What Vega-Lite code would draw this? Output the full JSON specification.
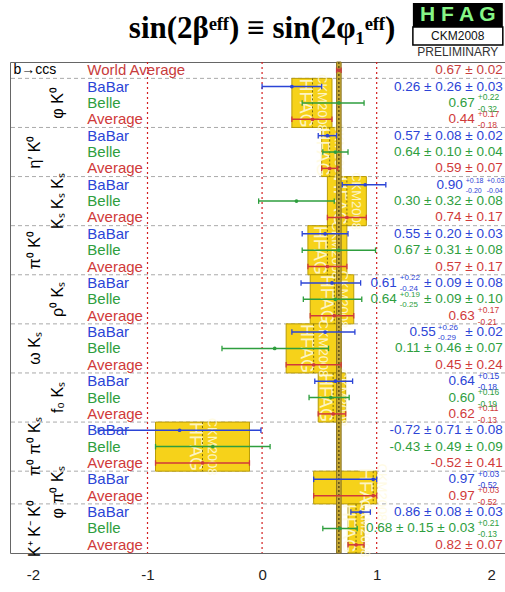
{
  "$schema": "https://vega.github.io/schema/vega-lite/v6.json",
  "width": 495,
  "height": 491,
  "autosize": {"type": "none"},
  "padding": {"left": 10, "top": 62, "right": 0, "bottom": 39},
  "background": "white",
  "config": {"view": {"stroke": "#666666", "strokeWidth": 1}, "font": "Liberation Sans"},
  "datasets": {
    "rows": [
      {"r": 0, "exp": "World Average", "v": 0.67, "lo": 0.65, "hi": 0.69, "txt": "0.67 ± 0.02"},
      {"r": 1, "exp": "BaBar", "v": 0.26, "lo": 0.0, "hi": 0.52, "txt": "0.26 ± 0.26 ± 0.03"},
      {"r": 2, "exp": "Belle", "v": 0.67, "lo": 0.35, "hi": 0.89, "txt": "0.67", "up": "+0.22", "dn": "-0.32"},
      {"r": 3, "exp": "Average", "v": 0.44, "lo": 0.26, "hi": 0.61, "txt": "0.44", "up": "+0.17", "dn": "-0.18"},
      {"r": 4, "exp": "BaBar", "v": 0.57, "lo": 0.49, "hi": 0.65, "txt": "0.57 ± 0.08 ± 0.02"},
      {"r": 5, "exp": "Belle", "v": 0.64, "lo": 0.53, "hi": 0.75, "txt": "0.64 ± 0.10 ± 0.04"},
      {"r": 6, "exp": "Average", "v": 0.59, "lo": 0.52, "hi": 0.66, "txt": "0.59 ± 0.07"},
      {"r": 7, "exp": "BaBar", "v": 0.90, "lo": 0.70, "hi": 1.08, "txt": "0.90", "up": "+0.18", "dn": "-0.20", "up2": "+0.03", "dn2": "-0.04"},
      {"r": 8, "exp": "Belle", "v": 0.30, "lo": -0.03, "hi": 0.63, "txt": "0.30 ± 0.32 ± 0.08"},
      {"r": 9, "exp": "Average", "v": 0.74, "lo": 0.57, "hi": 0.91, "txt": "0.74 ± 0.17"},
      {"r": 10, "exp": "BaBar", "v": 0.55, "lo": 0.35, "hi": 0.75, "txt": "0.55 ± 0.20 ± 0.03"},
      {"r": 11, "exp": "Belle", "v": 0.67, "lo": 0.35, "hi": 0.99, "txt": "0.67 ± 0.31 ± 0.08"},
      {"r": 12, "exp": "Average", "v": 0.57, "lo": 0.40, "hi": 0.74, "txt": "0.57 ± 0.17"},
      {"r": 13, "exp": "BaBar", "v": 0.61, "lo": 0.34, "hi": 0.86, "txt": "0.61", "up": "+0.22", "dn": "-0.24", "tail": "± 0.09 ± 0.08"},
      {"r": 14, "exp": "Belle", "v": 0.64, "lo": 0.36, "hi": 0.87, "txt": "0.64", "up": "+0.19", "dn": "-0.25", "tail": "± 0.09 ± 0.10"},
      {"r": 15, "exp": "Average", "v": 0.63, "lo": 0.42, "hi": 0.80, "txt": "0.63", "up": "+0.17", "dn": "-0.21"},
      {"r": 16, "exp": "BaBar", "v": 0.55, "lo": 0.26, "hi": 0.81, "txt": "0.55", "up": "+0.26", "dn": "-0.29", "tail": "± 0.02"},
      {"r": 17, "exp": "Belle", "v": 0.11, "lo": -0.35, "hi": 0.58, "txt": "0.11 ± 0.46 ± 0.07"},
      {"r": 18, "exp": "Average", "v": 0.45, "lo": 0.21, "hi": 0.69, "txt": "0.45 ± 0.24"},
      {"r": 19, "exp": "BaBar", "v": 0.64, "lo": 0.46, "hi": 0.79, "txt": "0.64", "up": "+0.15", "dn": "-0.18"},
      {"r": 20, "exp": "Belle", "v": 0.60, "lo": 0.41, "hi": 0.76, "txt": "0.60", "up": "+0.16", "dn": "-0.19"},
      {"r": 21, "exp": "Average", "v": 0.62, "lo": 0.49, "hi": 0.73, "txt": "0.62", "up": "+0.11", "dn": "-0.13"},
      {"r": 22, "exp": "BaBar", "v": -0.72, "lo": -1.43, "hi": -0.01, "txt": "-0.72 ± 0.71 ± 0.08"},
      {"r": 23, "exp": "Belle", "v": -0.43, "lo": -0.93, "hi": 0.07, "txt": "-0.43 ± 0.49 ± 0.09"},
      {"r": 24, "exp": "Average", "v": -0.52, "lo": -0.93, "hi": -0.11, "txt": "-0.52 ± 0.41"},
      {"r": 25, "exp": "BaBar", "v": 0.97, "lo": 0.45, "hi": 1.00, "txt": "0.97", "up": "+0.03", "dn": "-0.52"},
      {"r": 26, "exp": "Average", "v": 0.97, "lo": 0.45, "hi": 1.00, "txt": "0.97", "up": "+0.03", "dn": "-0.52"},
      {"r": 27, "exp": "BaBar", "v": 0.86, "lo": 0.775, "hi": 0.945, "txt": "0.86 ± 0.08 ± 0.03"},
      {"r": 28, "exp": "Belle", "v": 0.68, "lo": 0.53, "hi": 0.83, "txt": "0.68 ± 0.15 ± 0.03", "up": "+0.21", "dn": "-0.13"},
      {"r": 29, "exp": "Average", "v": 0.82, "lo": 0.75, "hi": 0.89, "txt": "0.82 ± 0.07"}
    ],
    "groups": [
      {"g": 0, "mode": "φ K⁰", "top": 0.5, "mid": 2, "bottom": 3.5, "v": 0.44, "lo": 0.26, "hi": 0.61},
      {"g": 1, "mode": "η′ K⁰", "top": 3.5, "mid": 5, "bottom": 6.5, "v": 0.59, "lo": 0.52, "hi": 0.66},
      {"g": 2, "mode": "Kₛ Kₛ Kₛ", "top": 6.5, "mid": 8, "bottom": 9.5, "v": 0.74, "lo": 0.57, "hi": 0.91},
      {"g": 3, "mode": "π⁰ K⁰", "top": 9.5, "mid": 11, "bottom": 12.5, "v": 0.57, "lo": 0.40, "hi": 0.74},
      {"g": 4, "mode": "ρ⁰ Kₛ", "top": 12.5, "mid": 14, "bottom": 15.5, "v": 0.63, "lo": 0.42, "hi": 0.80},
      {"g": 5, "mode": "ω Kₛ", "top": 15.5, "mid": 17, "bottom": 18.5, "v": 0.45, "lo": 0.21, "hi": 0.69},
      {"g": 6, "mode": "f₀ Kₛ", "top": 18.5, "mid": 20, "bottom": 21.5, "v": 0.62, "lo": 0.49, "hi": 0.73},
      {"g": 7, "mode": "π⁰ π⁰ Kₛ", "top": 21.5, "mid": 23, "bottom": 24.5, "v": -0.52, "lo": -0.93, "hi": -0.11},
      {"g": 8, "mode": "φ π⁰ Kₛ", "top": 24.5, "mid": 25.8, "bottom": 26.5, "v": 0.97, "lo": 0.45, "hi": 1.00},
      {"g": 9, "mode": "K⁺ K⁻ K⁰", "top": 26.5, "mid": 28, "bottom": 29.5, "v": 0.82, "lo": 0.75, "hi": 0.89}
    ],
    "gridlines": [{"x": -1}, {"x": 0}, {"x": 1}],
    "world": [{"v": 0.67, "lo": 0.65, "hi": 0.69, "top": -0.5, "bottom": 29.5}]
  },
  "layer": [
    {
      "data": {"name": "groups"},
      "mark": {"type": "rule", "color": "#aaaaaa", "strokeDash": [4, 3], "strokeWidth": 1},
      "encoding": {
        "y": {"field": "top", "type": "quantitative", "scale": {"domain": [-0.5, 29.5], "reverse": true, "nice": false, "zero": false}, "axis": null}
      }
    },
    {
      "data": {"name": "gridlines"},
      "mark": {"type": "rule", "color": "#d42020", "strokeDash": [2, 3], "strokeWidth": 1.2},
      "encoding": {
        "x": {
          "field": "x", "type": "quantitative",
          "scale": {"domain": [-2.2, 2.12], "nice": false, "zero": false},
          "axis": {
            "values": [-2, -1, 0, 1, 2], "title": null, "grid": false, "ticks": false, "domain": false,
            "labelFontSize": 15, "labelFont": "Liberation Sans", "labelColor": "#222222", "labelPadding": 14,
            "labelExpr": "'' + datum.value"
          }
        }
      }
    },
    {
      "data": {"name": "groups"},
      "mark": {"type": "rect", "fill": "#f6d21a", "stroke": "#b89b06", "strokeWidth": 1},
      "encoding": {
        "x": {"field": "lo", "type": "quantitative"},
        "x2": {"field": "hi"},
        "y": {"field": "top", "type": "quantitative"},
        "y2": {"field": "bottom"}
      }
    },
    {
      "data": {"name": "groups"},
      "mark": {"type": "text", "text": "HFAG", "angle": 90, "fontSize": 18, "color": "#fffbe0", "opacity": 0.85, "align": "center", "baseline": "middle", "dy": 8},
      "encoding": {
        "x": {"field": "v", "type": "quantitative"},
        "y": {"field": "mid", "type": "quantitative"}
      }
    },
    {
      "data": {"name": "groups"},
      "mark": {"type": "text", "text": "CKM2008", "angle": 90, "fontSize": 13, "color": "#fffbe0", "opacity": 0.85, "align": "center", "baseline": "middle", "dy": -9},
      "encoding": {
        "x": {"field": "v", "type": "quantitative"},
        "y": {"field": "mid", "type": "quantitative"}
      }
    },
    {
      "data": {"name": "groups"},
      "mark": {"type": "rule", "color": "#7a6a10", "strokeDash": [2, 2], "strokeWidth": 1},
      "encoding": {
        "x": {"field": "v", "type": "quantitative"},
        "y": {"field": "top", "type": "quantitative"},
        "y2": {"field": "bottom"}
      }
    },
    {
      "data": {"name": "world"},
      "mark": {"type": "rect", "fill": "#c9aa33", "stroke": "#8a7322", "strokeWidth": 1},
      "encoding": {
        "x": {"field": "lo", "type": "quantitative"},
        "x2": {"field": "hi"},
        "y": {"field": "top", "type": "quantitative"},
        "y2": {"field": "bottom"}
      }
    },
    {
      "data": {"name": "world"},
      "mark": {"type": "rule", "color": "#5e5018", "strokeDash": [2, 2], "strokeWidth": 1.5},
      "encoding": {
        "x": {"field": "v", "type": "quantitative"},
        "y": {"field": "top", "type": "quantitative"},
        "y2": {"field": "bottom"}
      }
    },
    {
      "data": {"name": "rows"},
      "mark": {"type": "rule", "strokeWidth": 1.5},
      "encoding": {
        "x": {"field": "lo", "type": "quantitative"},
        "x2": {"field": "hi"},
        "y": {"field": "r", "type": "quantitative"},
        "color": {
          "field": "exp", "type": "nominal", "legend": null,
          "scale": {"domain": ["World Average", "BaBar", "Belle", "Average"], "range": ["#c83c3c", "#2b44d6", "#2e9e3e", "#d03a3a"]}
        }
      }
    },
    {
      "data": {"name": "rows"},
      "mark": {"type": "point", "shape": "M0,-1L0,1", "size": 30, "filled": false, "strokeWidth": 1.3, "opacity": 1},
      "encoding": {
        "x": {"field": "lo", "type": "quantitative"},
        "y": {"field": "r", "type": "quantitative"},
        "color": {"field": "exp", "type": "nominal", "legend": null}
      }
    },
    {
      "data": {"name": "rows"},
      "mark": {"type": "point", "shape": "M0,-1L0,1", "size": 30, "filled": false, "strokeWidth": 1.3, "opacity": 1},
      "encoding": {
        "x": {"field": "hi", "type": "quantitative"},
        "y": {"field": "r", "type": "quantitative"},
        "color": {"field": "exp", "type": "nominal", "legend": null}
      }
    },
    {
      "data": {"name": "rows"},
      "mark": {"type": "point", "shape": "circle", "size": 14, "filled": true, "opacity": 1},
      "encoding": {
        "x": {"field": "v", "type": "quantitative"},
        "y": {"field": "r", "type": "quantitative"},
        "color": {"field": "exp", "type": "nominal", "legend": null}
      }
    },
    {
      "data": {"name": "rows"},
      "mark": {"type": "text", "align": "left", "baseline": "middle", "fontSize": 15},
      "encoding": {
        "x": {"datum": -1.525},
        "y": {"field": "r", "type": "quantitative"},
        "text": {"field": "exp"},
        "color": {"field": "exp", "type": "nominal", "legend": null}
      }
    },
    {
      "data": {"values": [{}]},
      "mark": {"type": "text", "text": "b→ccs", "align": "left", "baseline": "middle", "fontSize": 14, "color": "#000000"},
      "encoding": {"x": {"datum": -2.17}, "y": {"datum": 0}}
    },
    {
      "data": {"name": "groups"},
      "transform": [{"filter": "datum.g % 2 == 0"}],
      "mark": {"type": "text", "angle": 270, "align": "center", "baseline": "alphabetic", "fontSize": 16, "color": "#000000"},
      "encoding": {
        "x": {"datum": -1.735},
        "y": {"field": "mid", "type": "quantitative"},
        "text": {"field": "mode"}
      }
    },
    {
      "data": {"name": "groups"},
      "transform": [{"filter": "datum.g % 2 == 1"}],
      "mark": {"type": "text", "angle": 270, "align": "center", "baseline": "alphabetic", "fontSize": 16, "color": "#000000"},
      "encoding": {
        "x": {"datum": -1.935},
        "y": {"field": "mid", "type": "quantitative"},
        "text": {"field": "mode"}
      }
    },
    {
      "data": {"name": "rows"},
      "transform": [{"filter": "!datum.up"}],
      "mark": {"type": "text", "align": "right", "baseline": "middle", "fontSize": 13.5},
      "encoding": {
        "x": {"datum": 2.1},
        "y": {"field": "r", "type": "quantitative"},
        "text": {"field": "txt"},
        "color": {"field": "exp", "type": "nominal", "legend": null}
      }
    },
    {
      "data": {"name": "rows"},
      "transform": [{"filter": "datum.up && !datum.tail && !datum.up2"}],
      "mark": {"type": "text", "align": "right", "baseline": "middle", "fontSize": 13.5, "dx": -28},
      "encoding": {
        "x": {"datum": 2.1},
        "y": {"field": "r", "type": "quantitative"},
        "text": {"field": "txt"},
        "color": {"field": "exp", "type": "nominal", "legend": null}
      }
    },
    {
      "data": {"name": "rows"},
      "transform": [{"filter": "datum.up && !datum.tail && !datum.up2"}],
      "mark": {"type": "text", "align": "left", "baseline": "bottom", "fontSize": 8.5, "dx": -25, "dy": -0.5},
      "encoding": {
        "x": {"datum": 2.1},
        "y": {"field": "r", "type": "quantitative"},
        "text": {"field": "up"},
        "color": {"field": "exp", "type": "nominal", "legend": null}
      }
    },
    {
      "data": {"name": "rows"},
      "transform": [{"filter": "datum.up && !datum.tail && !datum.up2"}],
      "mark": {"type": "text", "align": "left", "baseline": "top", "fontSize": 8.5, "dx": -25, "dy": 2},
      "encoding": {
        "x": {"datum": 2.1},
        "y": {"field": "r", "type": "quantitative"},
        "text": {"field": "dn"},
        "color": {"field": "exp", "type": "nominal", "legend": null}
      }
    },
    {
      "data": {"name": "rows"},
      "transform": [{"filter": "datum.up2"}],
      "mark": {"type": "text", "align": "right", "baseline": "middle", "fontSize": 13.5, "dx": -40},
      "encoding": {
        "x": {"datum": 2.1},
        "y": {"field": "r", "type": "quantitative"},
        "text": {"field": "txt"},
        "color": {"field": "exp", "type": "nominal", "legend": null}
      }
    },
    {
      "data": {"name": "rows"},
      "transform": [{"filter": "datum.up2"}],
      "mark": {"type": "text", "align": "left", "baseline": "bottom", "fontSize": 7, "dx": -37, "dy": -0.5},
      "encoding": {
        "x": {"datum": 2.1},
        "y": {"field": "r", "type": "quantitative"},
        "text": {"field": "up"},
        "color": {"field": "exp", "type": "nominal", "legend": null}
      }
    },
    {
      "data": {"name": "rows"},
      "transform": [{"filter": "datum.up2"}],
      "mark": {"type": "text", "align": "left", "baseline": "top", "fontSize": 7, "dx": -37, "dy": 2},
      "encoding": {
        "x": {"datum": 2.1},
        "y": {"field": "r", "type": "quantitative"},
        "text": {"field": "dn"},
        "color": {"field": "exp", "type": "nominal", "legend": null}
      }
    },
    {
      "data": {"name": "rows"},
      "transform": [{"filter": "datum.up2"}],
      "mark": {"type": "text", "align": "left", "baseline": "bottom", "fontSize": 7, "dx": -16, "dy": -0.5},
      "encoding": {
        "x": {"datum": 2.1},
        "y": {"field": "r", "type": "quantitative"},
        "text": {"field": "up2"},
        "color": {"field": "exp", "type": "nominal", "legend": null}
      }
    },
    {
      "data": {"name": "rows"},
      "transform": [{"filter": "datum.up2"}],
      "mark": {"type": "text", "align": "left", "baseline": "top", "fontSize": 7, "dx": -16, "dy": 2},
      "encoding": {
        "x": {"datum": 2.1},
        "y": {"field": "r", "type": "quantitative"},
        "text": {"field": "dn2"},
        "color": {"field": "exp", "type": "nominal", "legend": null}
      }
    },
    {
      "data": {"name": "rows"},
      "transform": [{"filter": "datum.tail"}],
      "mark": {"type": "text", "align": "right", "baseline": "middle", "fontSize": 13.5},
      "encoding": {
        "x": {"datum": 2.1},
        "y": {"field": "r", "type": "quantitative"},
        "text": {"field": "tail"},
        "color": {"field": "exp", "type": "nominal", "legend": null}
      }
    },
    {
      "data": {"name": "rows"},
      "transform": [{"filter": "datum.tail && length(datum.tail) > 8"}],
      "mark": {"type": "text", "align": "right", "baseline": "middle", "fontSize": 13.5, "dx": -106},
      "encoding": {
        "x": {"datum": 2.1},
        "y": {"field": "r", "type": "quantitative"},
        "text": {"field": "txt"},
        "color": {"field": "exp", "type": "nominal", "legend": null}
      }
    },
    {
      "data": {"name": "rows"},
      "transform": [{"filter": "datum.tail && length(datum.tail) > 8"}],
      "mark": {"type": "text", "align": "left", "baseline": "bottom", "fontSize": 8, "dx": -103, "dy": -0.5},
      "encoding": {
        "x": {"datum": 2.1},
        "y": {"field": "r", "type": "quantitative"},
        "text": {"field": "up"},
        "color": {"field": "exp", "type": "nominal", "legend": null}
      }
    },
    {
      "data": {"name": "rows"},
      "transform": [{"filter": "datum.tail && length(datum.tail) > 8"}],
      "mark": {"type": "text", "align": "left", "baseline": "top", "fontSize": 8, "dx": -103, "dy": 2},
      "encoding": {
        "x": {"datum": 2.1},
        "y": {"field": "r", "type": "quantitative"},
        "text": {"field": "dn"},
        "color": {"field": "exp", "type": "nominal", "legend": null}
      }
    },
    {
      "data": {"name": "rows"},
      "transform": [{"filter": "datum.tail && length(datum.tail) <= 8"}],
      "mark": {"type": "text", "align": "right", "baseline": "middle", "fontSize": 13.5, "dx": -67},
      "encoding": {
        "x": {"datum": 2.1},
        "y": {"field": "r", "type": "quantitative"},
        "text": {"field": "txt"},
        "color": {"field": "exp", "type": "nominal", "legend": null}
      }
    },
    {
      "data": {"name": "rows"},
      "transform": [{"filter": "datum.tail && length(datum.tail) <= 8"}],
      "mark": {"type": "text", "align": "left", "baseline": "bottom", "fontSize": 8, "dx": -65, "dy": -0.5},
      "encoding": {
        "x": {"datum": 2.1},
        "y": {"field": "r", "type": "quantitative"},
        "text": {"field": "up"},
        "color": {"field": "exp", "type": "nominal", "legend": null}
      }
    },
    {
      "data": {"name": "rows"},
      "transform": [{"filter": "datum.tail && length(datum.tail) <= 8"}],
      "mark": {"type": "text", "align": "left", "baseline": "top", "fontSize": 8, "dx": -65, "dy": 2},
      "encoding": {
        "x": {"datum": 2.1},
        "y": {"field": "r", "type": "quantitative"},
        "text": {"field": "dn"},
        "color": {"field": "exp", "type": "nominal", "legend": null}
      }
    },
    {
      "data": {"values": [{}]},
      "mark": {"type": "text", "text": "sin(2βᵉᶠᶠ) ≡ sin(2φ₁ᵉᶠᶠ)", "align": "center", "baseline": "alphabetic", "font": "Liberation Serif", "fontSize": 31, "fontWeight": "bold", "color": "#000000"},
      "encoding": {"x": {"datum": 0}, "y": {"datum": -1.97}}
    },
    {
      "data": {"values": [{}]},
      "mark": {"type": "rect", "fill": "#000000"},
      "encoding": {"x": {"datum": 1.316}, "x2": {"datum": 2.101}, "y": {"datum": -4.1}, "y2": {"datum": -2.64}}
    },
    {
      "data": {"values": [{}]},
      "mark": {"type": "text", "text": "H F A G", "align": "center", "baseline": "middle", "fontSize": 21, "fontWeight": "bold", "color": "#86f586"},
      "encoding": {"x": {"datum": 1.708}, "y": {"datum": -3.37}}
    },
    {
      "data": {"values": [{}]},
      "mark": {"type": "rect", "fill": "#ffffff", "stroke": "#000000", "strokeWidth": 1.5},
      "encoding": {"x": {"datum": 1.316}, "x2": {"datum": 2.101}, "y": {"datum": -2.64}, "y2": {"datum": -1.54}}
    },
    {
      "data": {"values": [{}]},
      "mark": {"type": "text", "text": "CKM2008", "align": "center", "baseline": "middle", "fontSize": 12, "color": "#111111"},
      "encoding": {"x": {"datum": 1.708}, "y": {"datum": -2.09}}
    },
    {
      "data": {"values": [{}]},
      "mark": {"type": "text", "text": "PRELIMINARY", "align": "center", "baseline": "middle", "fontSize": 12, "color": "#333333"},
      "encoding": {"x": {"datum": 1.708}, "y": {"datum": -1.1}}
    }
  ]
}
